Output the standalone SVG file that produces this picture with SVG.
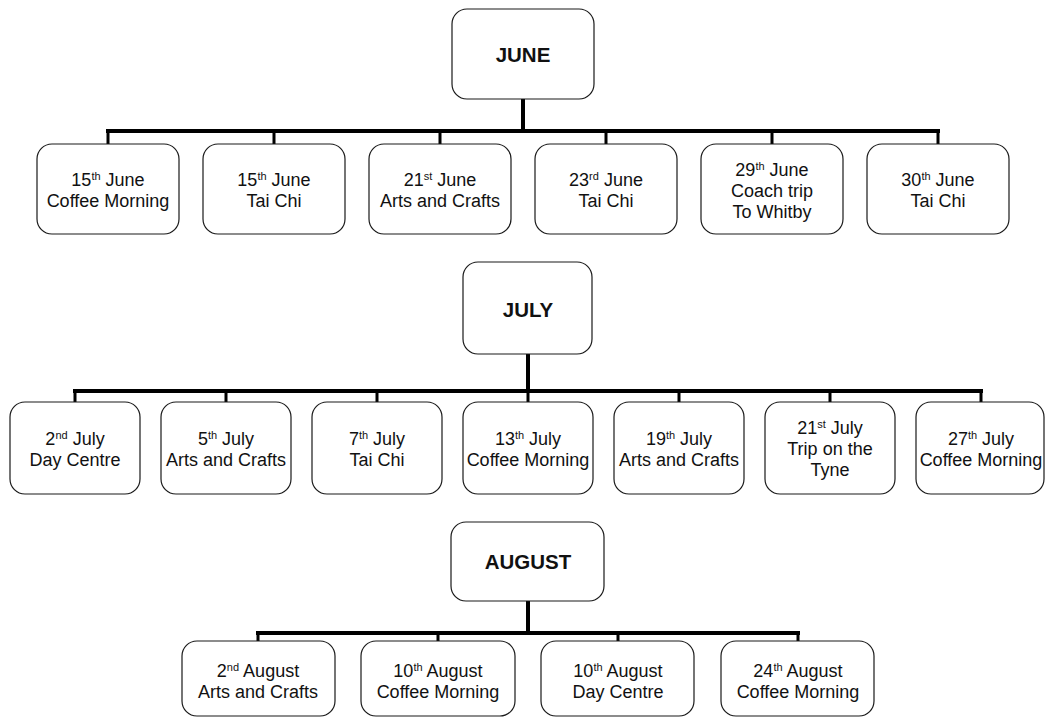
<svg xmlns="http://www.w3.org/2000/svg" width="1045" height="717" viewBox="0 0 1045 717">
  <style>
    .box { fill: #fff; stroke: #1a1a1a; stroke-width: 1.2; }
    .bus { stroke: #000; stroke-width: 4; fill: none; stroke-linecap: square; }
    .stem { stroke: #000; stroke-width: 3; fill: none; }
    text { font-family: "Liberation Sans", Arial, sans-serif; font-size: 18px; fill: #111; text-anchor: middle; }
    .title { font-weight: bold; font-size: 20.5px; }
    .sup { font-size: 11px; }
  </style>
  <rect width="1045" height="717" fill="#fff"/>

  <!-- Connectors -->
  <g id="connectors">
    <!-- June -->
    <path class="bus" d="M523 99 V131 M108 131 H938"/>
    <path class="stem" d="M108 131 V144 M274 131 V144 M440 131 V144 M606 131 V144 M772 131 V144 M938 131 V144"/>
    <!-- July -->
    <path class="bus" d="M528 354 V391 M75 391 H981"/>
    <path class="stem" d="M75 391 V402 M226 391 V402 M377 391 V402 M528 391 V402 M679 391 V402 M830 391 V402 M981 391 V402"/>
    <!-- August -->
    <path class="bus" d="M528 601 V633 M258 633 H798"/>
    <path class="stem" d="M258 633 V641 M438 633 V641 M618 633 V641 M798 633 V641"/>
  </g>

  <!-- June -->
  <g id="june">
    <rect class="box" x="452" y="9" width="142" height="90" rx="15"/>
    <text class="title" x="523" y="62">JUNE</text>
  </g>
  <g id="june-15-coffee">
    <rect class="box" x="37" y="144" width="142" height="90" rx="15"/>
    <text x="108" y="186">15<tspan class="sup" dy="-6">th</tspan><tspan dy="6"> June</tspan></text>
    <text x="108" y="207">Coffee Morning</text>
  </g>
  <g id="june-15-taichi">
    <rect class="box" x="203" y="144" width="142" height="90" rx="15"/>
    <text x="274" y="186">15<tspan class="sup" dy="-6">th</tspan><tspan dy="6"> June</tspan></text>
    <text x="274" y="207">Tai Chi</text>
  </g>
  <g id="june-21-arts">
    <rect class="box" x="369" y="144" width="142" height="90" rx="15"/>
    <text x="440" y="186">21<tspan class="sup" dy="-6">st</tspan><tspan dy="6"> June</tspan></text>
    <text x="440" y="207">Arts and Crafts</text>
  </g>
  <g id="june-23-taichi">
    <rect class="box" x="535" y="144" width="142" height="90" rx="15"/>
    <text x="606" y="186">23<tspan class="sup" dy="-6">rd</tspan><tspan dy="6"> June</tspan></text>
    <text x="606" y="207">Tai Chi</text>
  </g>
  <g id="june-29-whitby">
    <rect class="box" x="701" y="144" width="142" height="90" rx="15"/>
    <text x="772" y="176">29<tspan class="sup" dy="-6">th</tspan><tspan dy="6"> June</tspan></text>
    <text x="772" y="197">Coach trip</text>
    <text x="772" y="218">To Whitby</text>
  </g>
  <g id="june-30-taichi">
    <rect class="box" x="867" y="144" width="142" height="90" rx="15"/>
    <text x="938" y="186">30<tspan class="sup" dy="-6">th</tspan><tspan dy="6"> June</tspan></text>
    <text x="938" y="207">Tai Chi</text>
  </g>

  <!-- July -->
  <g id="july">
    <rect class="box" x="463" y="262" width="129" height="92" rx="15"/>
    <text class="title" x="528" y="317">JULY</text>
  </g>
  <g id="july-02-daycentre">
    <rect class="box" x="10" y="402" width="130" height="92" rx="15"/>
    <text x="75" y="445">2<tspan class="sup" dy="-6">nd</tspan><tspan dy="6"> July</tspan></text>
    <text x="75" y="466">Day Centre</text>
  </g>
  <g id="july-05-arts">
    <rect class="box" x="161" y="402" width="130" height="92" rx="15"/>
    <text x="226" y="445">5<tspan class="sup" dy="-6">th</tspan><tspan dy="6"> July</tspan></text>
    <text x="226" y="466">Arts and Crafts</text>
  </g>
  <g id="july-07-taichi">
    <rect class="box" x="312" y="402" width="130" height="92" rx="15"/>
    <text x="377" y="445">7<tspan class="sup" dy="-6">th</tspan><tspan dy="6"> July</tspan></text>
    <text x="377" y="466">Tai Chi</text>
  </g>
  <g id="july-13-coffee">
    <rect class="box" x="463" y="402" width="130" height="92" rx="15"/>
    <text x="528" y="445">13<tspan class="sup" dy="-6">th</tspan><tspan dy="6"> July</tspan></text>
    <text x="528" y="466">Coffee Morning</text>
  </g>
  <g id="july-19-arts">
    <rect class="box" x="614" y="402" width="130" height="92" rx="15"/>
    <text x="679" y="445">19<tspan class="sup" dy="-6">th</tspan><tspan dy="6"> July</tspan></text>
    <text x="679" y="466">Arts and Crafts</text>
  </g>
  <g id="july-21-tyne">
    <rect class="box" x="765" y="402" width="130" height="92" rx="15"/>
    <text x="830" y="434">21<tspan class="sup" dy="-6">st</tspan><tspan dy="6"> July</tspan></text>
    <text x="830" y="455">Trip on the</text>
    <text x="830" y="476">Tyne</text>
  </g>
  <g id="july-27-coffee">
    <rect class="box" x="916" y="402" width="128" height="92" rx="15"/>
    <text x="981" y="445">27<tspan class="sup" dy="-6">th</tspan><tspan dy="6"> July</tspan></text>
    <text x="981" y="466">Coffee Morning</text>
  </g>

  <!-- August -->
  <g id="august">
    <rect class="box" x="451" y="522" width="153" height="79" rx="15"/>
    <text class="title" x="528" y="569">AUGUST</text>
  </g>
  <g id="aug-02-arts">
    <rect class="box" x="182" y="641" width="153" height="75" rx="15"/>
    <text x="258" y="677">2<tspan class="sup" dy="-6">nd</tspan><tspan dy="6"> August</tspan></text>
    <text x="258" y="698">Arts and Crafts</text>
  </g>
  <g id="aug-10-coffee">
    <rect class="box" x="361" y="641" width="154" height="75" rx="15"/>
    <text x="438" y="677">10<tspan class="sup" dy="-6">th</tspan><tspan dy="6"> August</tspan></text>
    <text x="438" y="698">Coffee Morning</text>
  </g>
  <g id="aug-10-daycentre">
    <rect class="box" x="541" y="641" width="153" height="75" rx="15"/>
    <text x="618" y="677">10<tspan class="sup" dy="-6">th</tspan><tspan dy="6"> August</tspan></text>
    <text x="618" y="698">Day Centre</text>
  </g>
  <g id="aug-24-coffee">
    <rect class="box" x="721" y="641" width="153" height="75" rx="15"/>
    <text x="798" y="677">24<tspan class="sup" dy="-6">th</tspan><tspan dy="6"> August</tspan></text>
    <text x="798" y="698">Coffee Morning</text>
  </g>
</svg>
